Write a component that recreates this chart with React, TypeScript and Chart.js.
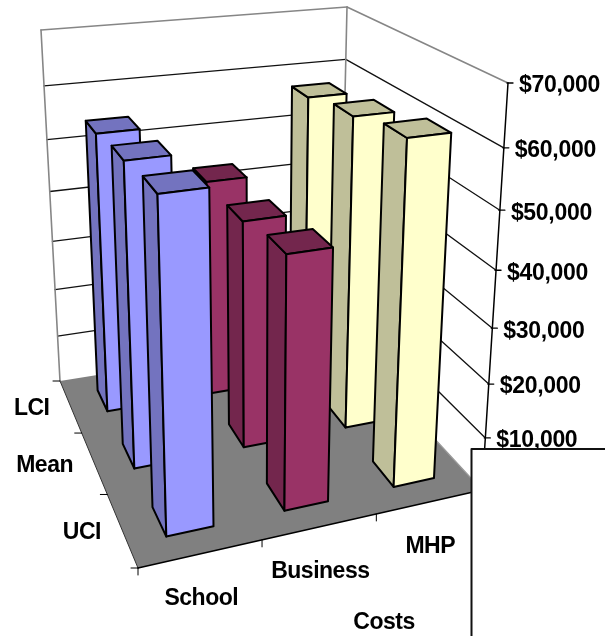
import React, { useEffect, useRef } from "react";
import { Chart, registerables } from "chart.js";

Chart.register(...registerables);

// Cost groups run left to right, confidence rows run back to front.
const costGroups = ["School", "Business", "MHP"];
const intervalRows = ["LCI", "Mean", "UCI"];
const schoolCosts = [54600, 56000, 57300];
const businessCosts = [43500, 43200, 45200];
const mhpCosts = [57300, 59200, 61300];
const valueTicks = { min: 0, max: 70000, step: 10000 };
const axisTitle = "Costs";

const frontColors = ["#9999FF", "#993366", "#FFFFCC"];
const sideColors = ["#7373BF", "#73264D", "#BFBF99"];

const LABEL_FONT = 'bold 23px "Liberation Sans", Arial, sans-serif';
const BAR_WIDTH = 0.39;
const BAR_DEPTH = 0.41;
const HEIGHT_FORESHORTENING = 0.88;

type Pt = [number, number];
type Quad = [Pt, Pt, Pt, Pt];

// Box corners on the page, ordered front left, front right, back right, back left.
const FLOOR_CORNERS: Quad = [[138, 568], [482, 490], [339.5, 336], [60, 381]];
const CEILING_CORNERS: Quad = [[123, 124], [508, 83], [347, 7], [41, 30]];

// Perspective map from the unit square onto a page quadrilateral.
function quadMap([[x0, y0], [x1, y1], [x2, y2], [x3, y3]]: Quad) {
  const dx1 = x1 - x2, dx2 = x3 - x2, sx = x0 - x1 + x2 - x3;
  const dy1 = y1 - y2, dy2 = y3 - y2, sy = y0 - y1 + y2 - y3;
  const den = dx1 * dy2 - dx2 * dy1;
  const g = (sx * dy2 - dx2 * sy) / den;
  const h = (dx1 * sy - sx * dy1) / den;
  return (u: number, v: number): Pt => {
    const d = g * u + h * v + 1;
    return [
      ((x1 - x0 + g * x1) * u + (x3 - x0 + h * x3) * v + x0) / d,
      ((y1 - y0 + g * y1) * u + (y3 - y0 + h * y3) * v + y0) / d,
    ];
  };
}

const floorAt = quadMap(FLOOR_CORNERS);
const ceilingAt = quadMap(CEILING_CORNERS);

// Takes (u, v, w) in the unit box to the page; upper levels are spaced wider.
function project(u: number, v: number, w: number): Pt {
  const a = floorAt(u, v);
  const b = ceilingAt(u, v);
  const k = HEIGHT_FORESHORTENING;
  const t = (k * w) / (1 + (k - 1) * w);
  return [a[0] + (b[0] - a[0]) * t, a[1] + (b[1] - a[1]) * t];
}

function polygon(ctx: CanvasRenderingContext2D, pts: Pt[], fill: string | null, stroke: string, width: number) {
  ctx.beginPath();
  pts.forEach(([x, y], i) => (i ? ctx.lineTo(x, y) : ctx.moveTo(x, y)));
  ctx.closePath();
  if (fill) {
    ctx.fillStyle = fill;
    ctx.fill();
  }
  if (stroke) {
    ctx.strokeStyle = stroke;
    ctx.lineWidth = width;
    ctx.stroke();
  }
}

function segment(ctx: CanvasRenderingContext2D, a: Pt, b: Pt, stroke: string, width: number) {
  ctx.beginPath();
  ctx.moveTo(a[0], a[1]);
  ctx.lineTo(b[0], b[1]);
  ctx.strokeStyle = stroke;
  ctx.lineWidth = width;
  ctx.stroke();
}

const box3d = {
  id: "box3d",
  beforeDatasetsDraw(chart: any) {
    const { ctx, scales } = chart;
    const rowScale = scales.x;
    const groupScale = scales.costs;
    const valueScale = scales.y;
    const uOf = (i: number) => (groupScale.getPixelForValue(i) - groupScale.left) / groupScale.width;
    const vOf = (i: number) => 1 - (rowScale.getPixelForValue(i) - rowScale.left) / rowScale.width;
    const wOf = (val: number) => (valueScale.bottom - valueScale.getPixelForValue(val)) / valueScale.height;

    ctx.save();
    ctx.lineJoin = "round";
    ctx.lineCap = "round";

    // Walls and floor
    polygon(ctx, [project(0, 0, 0), project(1, 0, 0), project(1, 1, 0), project(0, 1, 0)], "#808080", "", 0);
    segment(ctx, project(0, 1, 0), project(0, 0, 0), "#333333", 1);
    segment(ctx, project(1, 1, 0), project(1, 0, 0), "#9a9a9a", 1.2);

    // Gridlines across both walls
    const ticks: number[] = valueScale.ticks.map((t: any) => t.value);
    ticks.forEach((t) => {
      const w = wOf(t);
      const top = t === valueTicks.max;
      if (t === 0) return;
      const col = top ? "#868686" : "#111111";
      const lw = top ? 1.6 : 1.3;
      segment(ctx, project(0, 1, w), project(1, 1, w), col, lw);
      segment(ctx, project(1, 1, w), project(1, 0, w), col, lw);
    });
    segment(ctx, project(0, 1, 0), project(0, 1, 1), "#868686", 1.6);
    segment(ctx, project(1, 1, 0), project(1, 1, 1), "#868686", 1.6);

    // Bars: back rows first, and right to left inside a row
    const groups: number[] = costGroups.map((_, i) => i).reverse();
    intervalRows.forEach((_, row) => {
      groups.forEach((g) => {
        const ds = chart.data.datasets[g];
        const halfU = BAR_WIDTH / 2 / costGroups.length;
        const halfV = BAR_DEPTH / 2 / intervalRows.length;
        const u = uOf(g);
        const v = vOf(row);
        const h = wOf(ds.data[row]);
        const l = u - halfU, r = u + halfU, f = v - halfV, b = v + halfV;
        polygon(ctx, [project(l, f, 0), project(l, b, 0), project(l, b, h), project(l, f, h)], sideColors[g], "#000", 2);
        polygon(ctx, [project(l, f, h), project(l, b, h), project(r, b, h), project(r, f, h)], sideColors[g], "#000", 2);
        polygon(ctx, [project(l, f, 0), project(r, f, 0), project(r, f, h), project(l, f, h)], frontColors[g], "#000", 2);
      });
    });

    // Axis lines and tick marks
    segment(ctx, project(0, 0, 0), project(1, 0, 0), "#000", 1.5);
    segment(ctx, project(1, 0, 0), project(1, 0, 1), "#000", 1.5);

    ctx.fillStyle = "#000";
    ctx.font = LABEL_FONT;
    ctx.textBaseline = "middle";

    valueScale.ticks.forEach((t: any) => {
      if (t.value === 0) return;
      const [x, y] = project(1, 0, wOf(t.value));
      segment(ctx, [x - 1, y], [x + 5, y], "#000", 1.3);
      ctx.textAlign = "left";
      ctx.fillStyle = "#000";
      ctx.letterSpacing = "-0.3px";
      ctx.fillText("$" + t.value.toLocaleString("en-US"), x + 11, y + 3);
    });

    // Tick marks sit between rows and between groups
    for (let i = 0; i <= intervalRows.length; i++) {
      const [x, y] = project(0, i / intervalRows.length, 0);
      segment(ctx, [x - 7, y], [x, y], "#000", 1);
    }
    for (let i = 0; i <= costGroups.length; i++) {
      const [x, y] = project(i / costGroups.length, 0, 0);
      segment(ctx, [x, y], [x, y + 7], "#000", 1);
    }

    ctx.letterSpacing = "-0.5px";
    intervalRows.forEach((label, i) => {
      const [x, y] = project(0, vOf(i), 0);
      ctx.textAlign = "right";
      ctx.fillStyle = "#000";
      ctx.fillText(label, x - 21, y + 3);
    });
    costGroups.forEach((label, i) => {
      const [x, y] = project(uOf(i), 0, 0);
      ctx.textAlign = "center";
      ctx.fillStyle = "#000";
      ctx.fillText(label, x, y + 45);
    });
    ctx.textAlign = "center";
    ctx.fillText(axisTitle, 384, 623);

    // Blank panel laid over the lower right corner
    ctx.fillStyle = "#fff";
    ctx.fillRect(471.5, 449, 140, 200);
    ctx.strokeStyle = "#111";
    ctx.lineWidth = 2;
    ctx.strokeRect(471.5, 449, 140, 200);

    ctx.restore();
    return false;
  },
};

export default function App() {
  const ref = useRef<HTMLCanvasElement>(null);

  useEffect(() => {
    document.body.style.margin = "0";
    const chart = new Chart(ref.current!, {
      type: "bar",
      data: {
        labels: intervalRows,
        datasets: [
          { label: costGroups[0], data: schoolCosts },
          { label: costGroups[1], data: businessCosts },
          { label: costGroups[2], data: mhpCosts },
        ],
      },
      options: {
        responsive: false,
        animation: false,
        events: [],
        layout: { padding: 0 },
        plugins: { legend: { display: false }, tooltip: { enabled: false } },
        scales: {
          x: { type: "category", labels: intervalRows, offset: true, display: false },
          costs: { type: "category", axis: "x", labels: costGroups, offset: true, display: false },
          y: {
            type: "linear",
            min: valueTicks.min,
            max: valueTicks.max,
            ticks: { stepSize: valueTicks.step },
            display: false,
          },
        },
      },
      plugins: [box3d],
    } as any);
    return () => chart.destroy();
  }, []);

  return <canvas ref={ref} width={605} height={636} style={{ display: "block" }} />;
}
